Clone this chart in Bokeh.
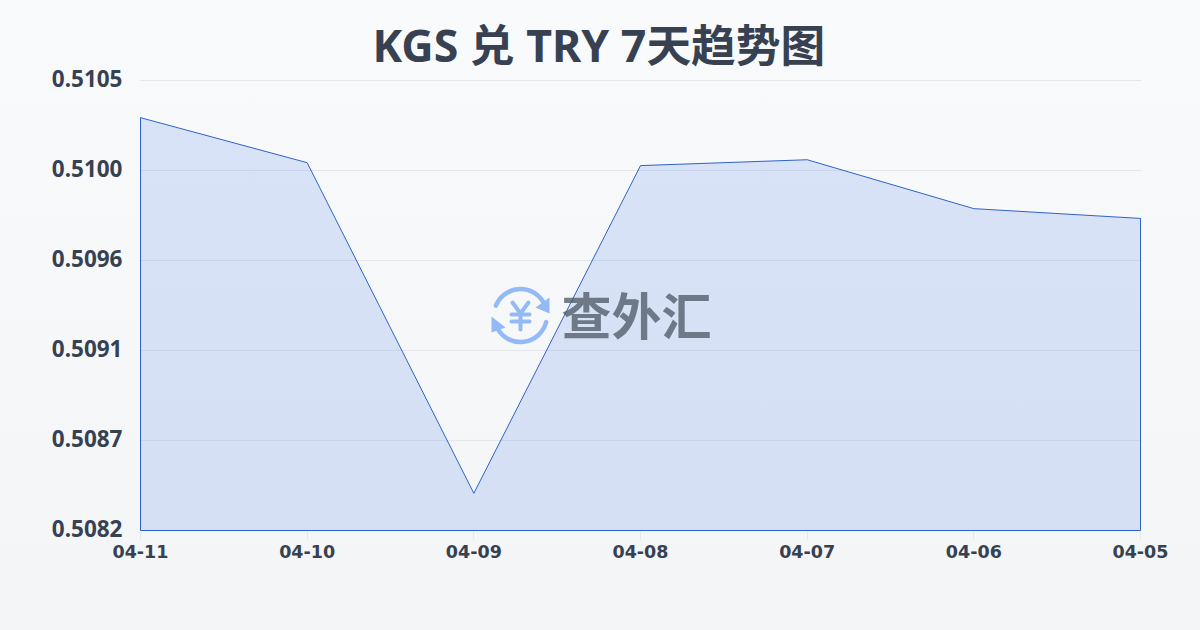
from bokeh.plotting import figure
from bokeh.embed import file_html
from bokeh.resources import INLINE
from bokeh.core.properties import value
from bokeh.models import (ColumnDataSource, FixedTicker, Range1d, GlobalInlineStyleSheet)

categories = ["04-11", "04-10", "04-09", "04-08", "04-07", "04-06", "04-05"]
rates = [0.51031, 0.51008, 0.50839, 0.510065, 0.510095, 0.509845, 0.509795]
y_ticks = [0.5082, 0.50866, 0.50912, 0.50958, 0.51004, 0.5105]
y_labels = ["0.5082", "0.5087", "0.5091", "0.5096", "0.5100", "0.5105"]
y_min, y_max = 0.5082, 0.5105
title_text = "KGS 兑 TRY 7天趋势图"
watermark = "查外汇"

LATIN = '"Noto Sans", "Noto Sans CJK SC", sans-serif'
INK = "#374151"

# a little slack round the plot area, so that the outline and the raised top label are not clipped
x_pad = (len(categories) - 1) / 1000
y_pad = (y_max - y_min) / 450

p = figure(width=1200, height=630, output_backend="svg", toolbar_location=None,
           title=title_text,
           x_range=Range1d(-x_pad, len(categories) - 1 + x_pad),
           y_range=Range1d(y_min - y_pad, y_max + 4 * y_pad),
           min_border_left=139, min_border_right=59, min_border_top=76, min_border_bottom=99,
           background_fill_alpha=0, border_fill_alpha=0, outline_line_alpha=0)
p.stylesheets = [GlobalInlineStyleSheet(css="html{background:linear-gradient(180deg,#f9fafc 0%,#f3f5f7 100%) no-repeat;background-size:100% 630px;}body{background:transparent;}")]

p.title.text_font = LATIN
p.title.text_font_style = "bold"
p.title.text_font_size = "44.7px"
p.title.text_color = INK
p.title.align = "left"
p.title.offset = 233
p.title.standoff = 4

# the reference's tick labels sit about 2px above their grid lines
label_ticks = [t + 2 * y_pad for t in y_ticks]
p.xaxis.ticker = FixedTicker(ticks=list(range(len(categories))))
p.xaxis.major_label_overrides = {i: c for i, c in enumerate(categories)}
p.yaxis.ticker = FixedTicker(ticks=label_ticks)
p.yaxis.major_label_overrides = dict(zip(label_ticks, y_labels))
p.ygrid.ticker = FixedTicker(ticks=y_ticks)
for ax in (p.xaxis[0], p.yaxis[0]):
    ax.axis_line_color = None
    ax.minor_tick_line_color = None
    ax.major_label_text_font_style = "bold"
    ax.major_label_text_color = INK
p.xaxis.major_label_text_font = "DejaVu Sans"
p.xaxis.major_label_text_font_size = "17.5px"
p.yaxis.major_label_text_font = LATIN
p.yaxis.major_label_text_font_size = "22.5px"
p.xaxis.major_tick_line_color = "#e5e7eb"
p.xaxis.major_tick_in = 0
p.xaxis.major_tick_out = 8
p.xaxis.major_label_standoff = 5
p.yaxis.major_tick_line_color = None
p.yaxis.major_tick_in = 0
p.yaxis.major_tick_out = 0
p.yaxis.major_label_standoff = 17
p.xgrid.grid_line_color = None
p.ygrid.grid_line_color = "#e5e7eb"
p.ygrid.grid_line_width = 1

xs = list(range(len(categories)))
source = ColumnDataSource(dict(x=[xs[0]] + xs + [xs[-1]], y=[y_min] + rates + [y_min]))
p.patch("x", "y", source=source, fill_color="#2863e2", fill_alpha=0.15,
        line_color="#2f62c8", line_width=1)

# pixel-scaled helper ranges for the watermark logo
p.extra_x_ranges["px"] = Range1d(139, 1141)
p.extra_y_ranges["px"] = Range1d(531, 76)
logo_blue = "#93b9f6"
cx, cy, r = 520, 315, 26.5
px = dict(x_range_name="px", y_range_name="px")
p.arc(x=[cx], y=[cy], radius=r, radius_units="screen", start_angle=[0.45], end_angle=[2.76],
      line_color=logo_blue, line_width=4.5, line_cap="round", **px)
p.arc(x=[cx], y=[cy], radius=r, radius_units="screen", start_angle=[-2.66], end_angle=[-0.25],
      line_color=logo_blue, line_width=4.5, line_cap="round", **px)
p.patches(xs=[[549, 549, 535], [491, 491, 505]], ys=[[297, 313, 307], [316, 332, 327]],
          fill_color=logo_blue, line_color=None, **px)
p.multi_line(xs=[[512, 520, 528], [511, 529], [511, 529], [520, 520]],
             ys=[[302, 313, 302], [314, 314], [321, 321], [313, 329]],
             line_color=logo_blue, line_width=4, line_cap="round", line_join="round", **px)
p.text(x=[636], y=[312], text=[watermark], text_font=value("Noto Sans CJK SC"), text_font_style="bold",
       text_font_size="50px", text_color="#4b5563", text_alpha=0.75, text_align="center",
       text_baseline="middle", **px)

open("out.html", "w").write(file_html(p, INLINE))
